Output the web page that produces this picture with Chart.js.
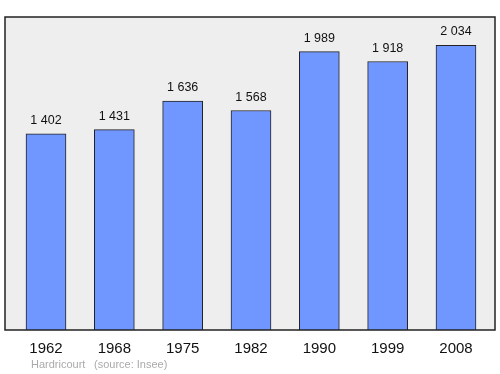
<!DOCTYPE html>
<html>
<head>
<meta charset="utf-8">
<script src="https://cdn.jsdelivr.net/npm/chart.js@4"></script>
<style>
  html, body { margin: 0; padding: 0; background: #fff; }
  #wrap { width: 500px; height: 374px; }
</style>
</head>
<body>
<div id="wrap"><canvas id="popChart"></canvas></div>
<script>
const years = ['1962', '1968', '1975', '1982', '1990', '1999', '2008'];
const population = [1402, 1431, 1636, 1568, 1989, 1918, 2034];
const yMax = 2236;

const fmt = v => String(v).replace(/\B(?=(\d{3})+(?!\d))/g, ' ');

// grey plot panel, value labels and footer
const decor = {
  id: 'decor',
  beforeDatasetsDraw(chart) {
    const { ctx, chartArea: a } = chart;
    ctx.save();
    ctx.fillStyle = '#eeeeee';
    ctx.fillRect(a.left, a.top, a.right - a.left, a.bottom - a.top);
    ctx.restore();
  },
  afterDatasetsDraw(chart) {
    const { ctx, chartArea: a } = chart;
    ctx.save();
    ctx.strokeStyle = '#222';
    ctx.lineWidth = 1.5;
    ctx.strokeRect(a.left, a.top, a.right - a.left, a.bottom - a.top);
    ctx.font = '12.5px "Liberation Sans", Arial, sans-serif';
    ctx.fillStyle = '#111';
    ctx.textAlign = 'center';
    ctx.textBaseline = 'bottom';
    chart.getDatasetMeta(0).data.forEach((bar, i) => {
      ctx.fillText(fmt(population[i]), bar.x, bar.y - 7);
    });
    ctx.font = '11px "Liberation Sans", Arial, sans-serif';
    ctx.fillStyle = '#aaaaaa';
    ctx.textAlign = 'left';
    ctx.textBaseline = 'middle';
    ctx.fillText('Hardricourt', 31, 365);
    ctx.fillText('(source: Insee)', 94, 365);
    ctx.restore();
  }
};

new Chart(document.getElementById('popChart').getContext('2d'), {
  type: 'bar',
  data: {
    datasets: [{
      data: population.map((v, i) => ({ x: i, y: v })),
      backgroundColor: '#7096ff',
      borderColor: '#222',
      borderWidth: 1,
      barThickness: 40
    }]
  },
  options: {
    responsive: true,
    maintainAspectRatio: false,
    animation: false,
    layout: { padding: { left: 5, right: 5, top: 17, bottom: 6 } },
    plugins: { legend: { display: false }, tooltip: { enabled: false } },
    scales: {
      x: {
        type: 'linear',
        offset: false,
        min: -0.6,
        max: 6.571,
        grid: { display: false, drawTicks: false },
        border: { display: false },
        afterBuildTicks: axis => { axis.ticks = years.map((y, i) => ({ value: i })); },
        ticks: {
          padding: 10,
          autoSkip: false,
          maxRotation: 0,
          color: '#111',
          font: { family: '"Liberation Sans", Arial, sans-serif', size: 15 },
          callback: v => years[v]
        }
      },
      y: {
        display: false,
        min: 0,
        max: yMax
      }
    }
  },
  plugins: [decor]
});
</script>
</body>
</html>
